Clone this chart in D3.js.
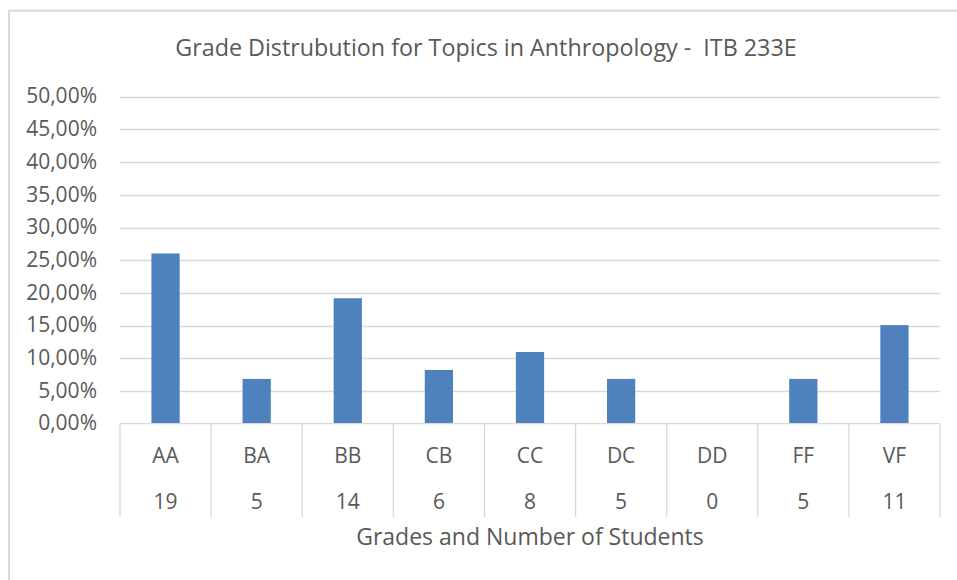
<!DOCTYPE html>
<html>
<head>
<meta charset="utf-8">
<script src="https://cdn.jsdelivr.net/npm/d3@7"></script>
<style>
  body { margin: 0; background: #fff; }
  text { font-family: "Open Sans", sans-serif; fill: #595959; }
</style>
</head>
<body>
<svg id="chart" width="957" height="580"></svg>
<script>
// ━━━━━━━━━━━━━━━━━━━━━━━━━━━━━━━━━━━━━━━━━━━━━━━━━━━━━━━━━━━━━━━━━━
// Data //////////////////////////////////////////////////////////////
// ━━━━━━━━━━━━━━━━━━━━━━━━━━━━━━━━━━━━━━━━━━━━━━━━━━━━━━━━━━━━━━━━━━
const grades = ['AA', 'BA', 'BB', 'CB', 'CC', 'DC', 'DD', 'FF', 'VF'];
const students = [19, 5, 14, 6, 8, 5, 0, 5, 11];
const percents = [26.03, 6.85, 19.18, 8.22, 10.96, 6.85, 0, 6.85, 15.07];
const yTicks = [0, 5, 10, 15, 20, 25, 30, 35, 40, 45, 50];

const svg = d3.select('#chart');
const plotLeft = 120, plotRight = 940, plotTop = 96.7, plotBottom = 423.7, sepBottom = 517;

// border
svg.append('rect')
  .attr('x', 9).attr('y', 10.7)
  .attr('width', 960).attr('height', 600)
  .attr('fill', 'none').attr('stroke', '#d9d9d9').attr('stroke-width', 2);

// ━━━━━━━━━━━━━━━━━━━━━━━━━━━━━━━━━━━━━━━━━━━━━━━━━━━━━━━━━━━━━━━━━━
// Scales ////////////////////////////////////////////////////////////
// ━━━━━━━━━━━━━━━━━━━━━━━━━━━━━━━━━━━━━━━━━━━━━━━━━━━━━━━━━━━━━━━━━━
const x = d3.scaleBand().domain(grades).range([plotLeft, plotRight]).paddingInner(0.69).paddingOuter(0.345);
const xBand = d3.scaleBand().domain(grades).range([plotLeft, plotRight]);
const y = d3.scaleLinear().domain([0, 50]).range([plotBottom, plotTop]);

// gridlines
svg.append('g').selectAll('line')
  .data(yTicks.filter(d => d > 0))
  .join('line')
  .attr('x1', plotLeft).attr('x2', plotRight)
  .attr('y1', d => Math.round(y(d)) + 0.5).attr('y2', d => Math.round(y(d)) + 0.5)
  .attr('stroke', '#d9d9d9').attr('stroke-width', 1.3);

// y labels
svg.append('g').selectAll('text')
  .data(yTicks)
  .join('text')
  .attr('x', 97).attr('y', d => y(d))
  .attr('dy', '0.32em')
  .attr('text-anchor', 'end')
  .attr('font-size', 21)
  .text(d => d3.format('.2f')(d).replace('.', ',') + '%');

// bars
svg.append('g').selectAll('rect')
  .data(grades)
  .join('rect')
  .attr('x', d => x(d))
  .attr('width', x.bandwidth())
  .attr('y', (d, i) => y(percents[i]))
  .attr('height', (d, i) => plotBottom - y(percents[i]))
  .attr('fill', '#4f81bd');

// baseline and category separators
svg.append('line')
  .attr('x1', plotLeft).attr('x2', plotRight)
  .attr('y1', plotBottom).attr('y2', plotBottom)
  .attr('stroke', '#d9d9d9').attr('stroke-width', 1.3);

svg.append('g').selectAll('line')
  .data(grades.map(d => xBand(d)).concat([plotRight]))
  .join('line')
  .attr('x1', d => d).attr('x2', d => d)
  .attr('y1', plotBottom).attr('y2', sepBottom)
  .attr('stroke', '#d9d9d9').attr('stroke-width', 1.3);

// category labels, two rows
svg.append('g').selectAll('text')
  .data(grades)
  .join('text')
  .attr('x', d => xBand(d) + xBand.bandwidth() / 2)
  .attr('y', 462.5)
  .attr('text-anchor', 'middle').attr('font-size', 21)
  .text(d => d);

svg.append('g').selectAll('text')
  .data(grades)
  .join('text')
  .attr('x', d => xBand(d) + xBand.bandwidth() / 2)
  .attr('y', 509)
  .attr('text-anchor', 'middle').attr('font-size', 21)
  .text((d, i) => students[i]);

// titles
svg.append('text')
  .attr('x', 486).attr('y', 56)
  .attr('text-anchor', 'middle').attr('font-size', 23.3)
  .attr('xml:space', 'preserve')
  .text('Grade Distrubution for Topics in Anthropology -  ITB 233E');

svg.append('text')
  .attr('x', 530).attr('y', 545)
  .attr('text-anchor', 'middle').attr('font-size', 23)
  .text('Grades and Number of Students');
</script>
</body>
</html>
